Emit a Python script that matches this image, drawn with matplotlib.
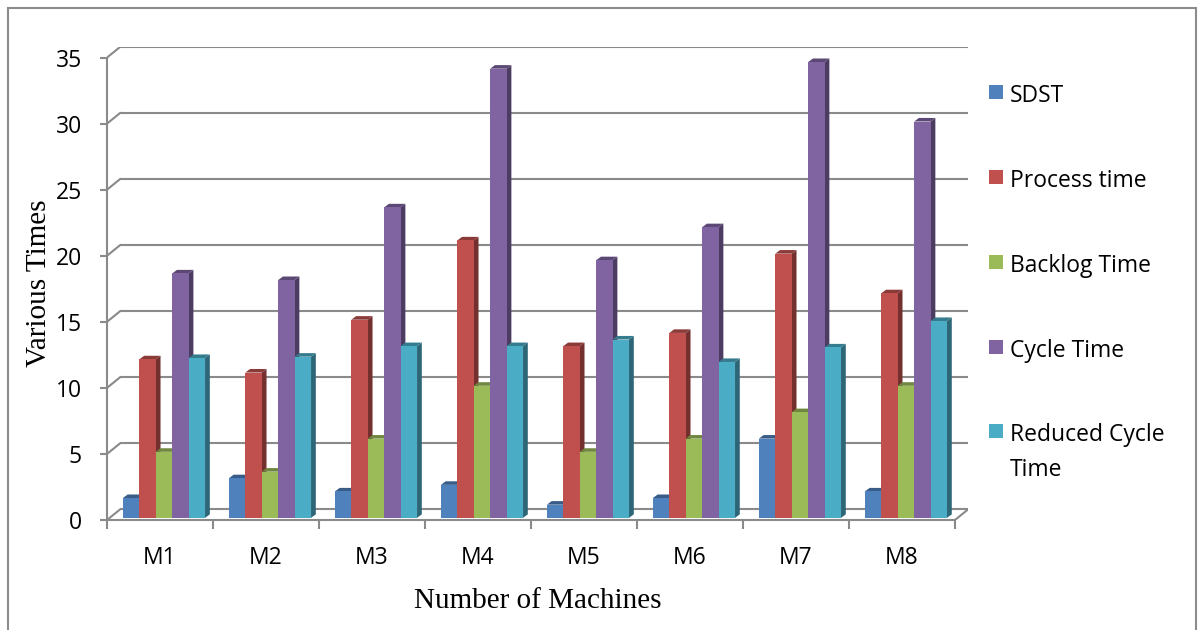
import matplotlib
matplotlib.use("Agg")

import matplotlib.pyplot as plt
import matplotlib.colors as mcolors
from matplotlib.patches import Polygon, Rectangle

# ── data
machines = ["M1", "M2", "M3", "M4", "M5", "M6", "M7", "M8"]
series_names = ["SDST", "Process time", "Backlog Time", "Cycle Time",
                "Reduced Cycle\nTime"]
sdst          = [1.5, 3.0, 2.0, 2.5, 1.0, 1.5, 6.0, 2.0]
process_time  = [12.0, 11.0, 15.0, 21.0, 13.0, 14.0, 20.0, 17.0]
backlog_time  = [5.0, 3.5, 6.0, 10.0, 5.0, 6.0, 8.0, 10.0]
cycle_time    = [18.5, 18.0, 23.5, 34.0, 19.5, 22.0, 34.5, 30.0]
reduced_cycle = [12.1, 12.2, 13.0, 13.0, 13.5, 11.8, 12.9, 14.9]
y_ticks = [0, 5, 10, 15, 20, 25, 30, 35]

series = [sdst, process_time, backlog_time, cycle_time, reduced_cycle]
colors = ["#4F81BD", "#C0504D", "#9BBB59", "#8064A2", "#4BACC6"]

# ── pseudo-3D geometry (data units)
WALL_DX, WALL_DY = 0.123, 0.80    # depth of the back wall
BAR_DX, BAR_DY = 0.045, 0.27      # depth of each column
BAR_BASE = 0.16                   # columns sit a little behind the front edge
BAR_W = 0.155
GROUP_OFF = 0.15
GRID_C = "#8a8a8a"
GRID_LW = 1.5

W, H = 1198, 630


def shade(c, f):
    r, g, b = mcolors.to_rgb(c)
    return (r * f, g * f, b * f)


fig = plt.figure(figsize=(W / 100, H / 100), dpi=100)
fig.patch.set_facecolor("white")

# outer frame
fig.add_artist(Rectangle((8 / W, -0.02), (1196 - 8) / W, 1.02 - 8 / H,
                         transform=fig.transFigure, fill=False,
                         edgecolor="#8c8c8c", linewidth=1.5))

ax = fig.add_axes([107 / W, (H - 520) / H, (968 - 107) / W, (520 - 47) / H])
n = len(machines)
ax.set_xlim(0, n + WALL_DX)
ax.set_ylim(0, y_ticks[-1] + WALL_DY)
ax.patch.set_visible(False)

# back wall gridlines, side wall diagonals
for v in y_ticks:
    ax.plot([WALL_DX, n + WALL_DX], [v + WALL_DY, v + WALL_DY],
            color=GRID_C, lw=GRID_LW, zorder=1, solid_capstyle="butt")
    ax.plot([0, WALL_DX], [v, v + WALL_DY], color=GRID_C, lw=GRID_LW, zorder=1)
# floor right edge
ax.plot([n, n + WALL_DX], [0, WALL_DY], color=GRID_C, lw=GRID_LW, zorder=1)

# columns
z = 2
for i in range(n):
    for k, (vals, c) in enumerate(zip(series, colors)):
        x0 = i + GROUP_OFF + k * BAR_W
        v = vals[i]
        top = BAR_BASE + v
        side = Polygon([(x0 + BAR_W, BAR_BASE), (x0 + BAR_W + BAR_DX, BAR_BASE + BAR_DY),
                        (x0 + BAR_W + BAR_DX, top + BAR_DY), (x0 + BAR_W, top)],
                       closed=True, facecolor=shade(c, 0.6), edgecolor="none", zorder=z)
        cap = Polygon([(x0, top), (x0 + BAR_DX, top + BAR_DY),
                       (x0 + BAR_W + BAR_DX, top + BAR_DY), (x0 + BAR_W, top)],
                      closed=True, facecolor=shade(c, 0.72), edgecolor="none", zorder=z)
        ax.add_patch(side)
        ax.add_patch(cap)
        ax.bar(x0, v, width=BAR_W, bottom=BAR_BASE, align="edge", color=c,
               edgecolor="none", zorder=z + 0.5)
        z += 1

# front axes
for s in ("top", "right"):
    ax.spines[s].set_visible(False)
for s in ("left", "bottom"):
    ax.spines[s].set_color(GRID_C)
    ax.spines[s].set_linewidth(GRID_LW)
ax.spines["left"].set_bounds(0, y_ticks[-1])
ax.spines["bottom"].set_bounds(0, n)

tick_font = dict(family="Open Sans", size=16.5)
ax.set_yticks(y_ticks)
ax.set_yticklabels([str(t) for t in y_ticks], **tick_font)
ax.tick_params(axis="y", length=5, width=GRID_LW, color=GRID_C, pad=13,
               labelcolor="black")
ax.set_xticks([i + 0.5 for i in range(n)])
ax.set_xticklabels(machines, **tick_font)
ax.set_xticks(range(n + 1), minor=True)
ax.tick_params(axis="x", which="major", length=0, pad=19, labelcolor="black")
ax.tick_params(axis="x", which="minor", length=6.5, width=GRID_LW, color=GRID_C)

ax.set_ylabel("Various Times", family="Liberation Serif", size=21, labelpad=3)
ax.set_xlabel("Number of Machines", family="Liberation Serif", size=21, labelpad=12.5)

# legend
leg_y = [92, 177, 262, 347, 431]
for name, c, yy in zip(series_names, colors, leg_y):
    fig.add_artist(Rectangle((989 / W, 1 - (yy + 7) / H), 14 / W, 14 / H,
                             transform=fig.transFigure, facecolor=c,
                             edgecolor="none"))
    fig.text(1010 / W, 1 - (yy - 8) / H, name, ha="left", va="top",
             family="Open Sans", size=16.5, linespacing=1.6)

fig.savefig("out.png", dpi=100, facecolor="white")
